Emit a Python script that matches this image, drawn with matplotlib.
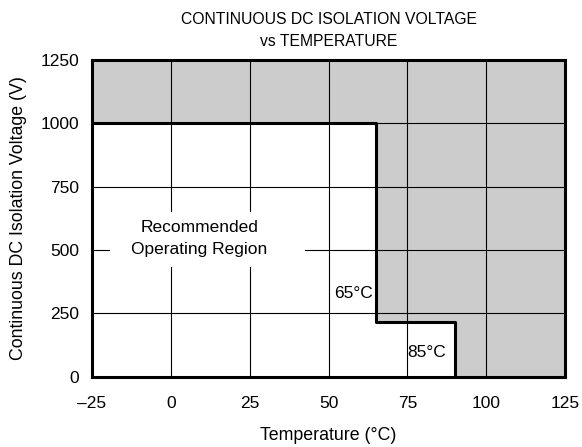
import matplotlib.pyplot as plt
from matplotlib.patches import Rectangle

plt.rcParams['font.family'] = ['Liberation Sans', 'DejaVu Sans']

# safe operating boundary (temperature in C, voltage in V)
temp = [-25, 65, 65, 90, 90]
volt = [1000, 1000, 215, 215, 0]

xticks = [-25, 0, 25, 50, 75, 100, 125]
yticks = [0, 250, 500, 750, 1000, 1250]

fig = plt.figure(figsize=(5.82, 4.47), dpi=100)
ax = fig.add_axes([0.158, 0.157, 0.813, 0.709])

ax.set_facecolor('#cccccc')
ax.fill_between(temp, volt, 0, color='white', zorder=1)
ax.plot(temp, volt, color='black', linewidth=2.2, zorder=3)

ax.set_xlim(-25, 125)
ax.set_ylim(0, 1250)
ax.set_xticks(xticks)
ax.set_xticklabels([str(t).replace('-', '\u2013') for t in xticks])
ax.set_yticks(yticks)
ax.tick_params(length=0, labelsize=12.5, pad=9)
ax.tick_params(axis='x', pad=14)
ax.grid(color='black', linewidth=0.8)
for s in ax.spines.values():
    s.set_linewidth(2.2)
    s.set_zorder(4)

# white patch behind the region label, hiding the grid
ax.add_patch(Rectangle((-19.3, 434), 61.8, 217, facecolor='white',
                       edgecolor='none', zorder=2))
ax.text(9, 544, 'Recommended\nOperating Region', ha='center', va='center',
        fontsize=12.5, linespacing=1.6, zorder=2.5)
ax.text(58, 330, '65\u00b0C', ha='center', va='center', fontsize=12.5, zorder=2)
ax.text(81, 95, '85\u00b0C', ha='center', va='center', fontsize=12.5, zorder=2)

ax.set_xlabel('Temperature (\u00b0C)', fontsize=12.8, labelpad=11)
ax.set_ylabel('Continuous DC Isolation Voltage (V)', fontsize=12.8, labelpad=10)
ax.set_title('CONTINUOUS DC ISOLATION VOLTAGE\nvs TEMPERATURE', fontsize=11.3,
             pad=10, linespacing=1.6)

fig.savefig('out.png', dpi=100)
